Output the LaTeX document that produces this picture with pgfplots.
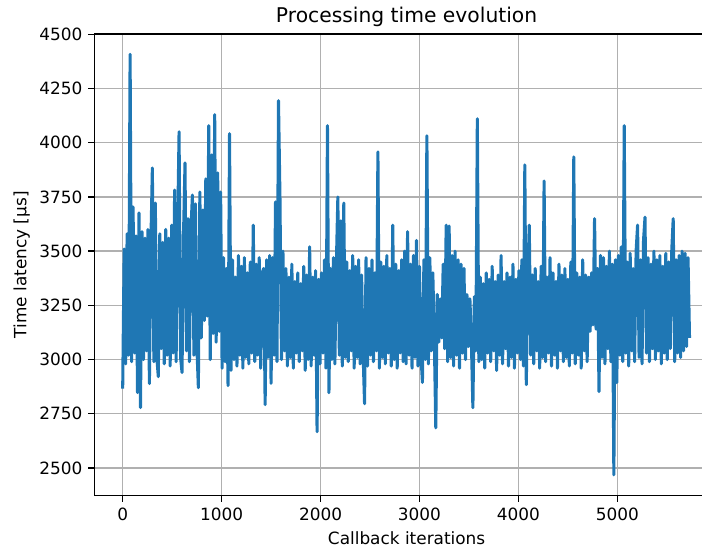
\documentclass[border=0pt]{standalone}
\usepackage{fontspec}
\setmainfont{DejaVu Sans}
\usepackage{pgfplots}
\pgfplotsset{compat=1.18}

\definecolor{mplblue}{HTML}{1F77B4}
\definecolor{mplgrid}{HTML}{B0B0B0}

\begin{document}
\begin{tikzpicture}
% the reference is cut on its right side, just before the right spine
\useasboundingbox (-55.8pt,-32.1pt) rectangle (359.6pt,293.3pt);
\clip (-55.8pt,-32.1pt) rectangle (359.6pt,293.3pt);
\begin{axis}[
    scale only axis,
    width=369.6pt,
    height=273.2pt,
    xmin=-287, xmax=6027,
    ymin=2372, ymax=4502,
    xtick={0,1000,2000,3000,4000,5000},
    ytick={2500,2750,3000,3250,3500,3750,4000,4250,4500},
    scaled ticks=false,
    xticklabel style={/pgf/number format/1000 sep={}, /pgf/number format/assume math mode=true},
    yticklabel style={/pgf/number format/1000 sep={}, /pgf/number format/assume math mode=true},
    tick align=outside,
    tick pos=left,
    major tick length=3.5pt,
    every tick/.style={black, line width=0.8pt},
    axis line style={black, line width=0.8pt},
    grid=major,
    grid style={mplgrid, line width=0.8pt},
    tick label style={font=\fontsize{10}{12}\selectfont},
    every axis title/.style={at={([yshift=6.5pt]axis description cs:0.5,1)}, anchor=base, font=\fontsize{12}{14}\selectfont},
    every axis x label/.style={at={([yshift=-25pt]axis description cs:0.5,0)}, anchor=center, font=\fontsize{10}{12}\selectfont},
    every axis y label/.style={at={([xshift=-43pt]axis description cs:0,0.5)}, anchor=center, rotate=90, font=\fontsize{10}{12}\selectfont},
    title={Processing time evolution},
    xlabel={Callback iterations},
    ylabel={Time latency [µs]},
]
\addplot[mplblue, line width=1.8pt, line join=round] coordinates {
(0,2866) (15,3510) (30,2980) (45,3580) (60,3020) (75,4408) (90,2990) (105,3704) (120,3030) (135,3570)
(150,2847) (165,3676) (180,2778) (195,3590) (210,3000) (225,3560) (240,3040) (255,3600) (270,2889) (285,3540)
(300,3884) (315,2990) (330,3722) (345,3010) (360,2921) (375,3580) (390,3050) (405,3540) (420,2980) (435,3600)
(450,3020) (465,3560) (480,2970) (495,3620) (510,3030) (525,3782) (540,2990) (555,3590) (570,4051) (585,3010)
(600,2940) (615,3580) (630,3907) (645,3040) (660,3650) (675,2990) (690,3600) (705,3759) (720,3020) (735,3718)
(750,3060) (765,2870) (780,3773) (795,3100) (810,3690) (825,3180) (840,3833) (855,3200) (870,4079) (885,3000)
(900,3944) (915,3120) (930,4130) (945,3080) (960,3861) (975,3130) (990,3773) (1005,2960) (1020,3470) (1035,2990)
(1050,3420) (1065,2880) (1080,4042) (1095,2950) (1110,3460) (1125,3000) (1140,3380) (1155,2970) (1170,3480) (1185,3020)
(1200,3430) (1215,2960) (1230,3470) (1245,3010) (1260,3400) (1275,2980) (1290,3450) (1305,3030) (1320,3620) (1335,2990)
(1350,3440) (1365,3020) (1380,3470) (1395,2960) (1410,3400) (1425,3420) (1440,2792) (1455,3460) (1470,3010) (1485,3480)
(1500,2890) (1515,3470) (1530,3020) (1545,3727) (1560,2990) (1575,4194) (1590,3745) (1605,3000) (1620,3500) (1635,3040)
(1650,3420) (1665,2970) (1680,3380) (1695,3010) (1710,3440) (1725,2960) (1740,3360) (1755,3030) (1770,3400) (1785,2990)
(1800,3350) (1815,3040) (1830,3430) (1845,2950) (1860,3390) (1875,3000) (1890,3520) (1905,2970) (1920,3380) (1935,3020)
(1950,3410) (1965,2667) (1980,3370) (1995,2980) (2010,3400) (2025,3030) (2040,3460) (2055,2960) (2070,4079) (2085,2847)
(2100,3420) (2115,3000) (2130,3470) (2145,2980) (2160,3440) (2175,3750) (2190,3020) (2205,3640) (2220,2970) (2235,3722)
(2250,3010) (2265,3450) (2280,2990) (2295,3410) (2310,3040) (2325,3480) (2340,2960) (2355,3430) (2370,3010) (2385,3460)
(2400,2980) (2415,3390) (2430,3030) (2445,2796) (2460,3470) (2475,2970) (2490,3420) (2505,3020) (2520,3460) (2535,2990)
(2550,3400) (2565,3040) (2580,3958) (2595,2960) (2610,3450) (2625,3010) (2640,3430) (2655,2980) (2670,3480) (2685,3030)
(2700,3420) (2715,2970) (2730,3620) (2745,3000) (2760,3440) (2775,2960) (2790,3410) (2805,3030) (2820,3460) (2835,2990)
(2850,3500) (2865,2980) (2880,3590) (2895,3020) (2910,3440) (2925,2960) (2940,3480) (2955,3010) (2970,3550) (2985,2970)
(3000,3430) (3015,3020) (3030,2894) (3045,3460) (3060,3000) (3075,4032) (3090,2980) (3105,3470) (3120,3040) (3135,3400)
(3150,3100) (3165,2685) (3180,3300) (3195,3080) (3210,3280) (3225,3100) (3240,3440) (3255,3050) (3270,3620) (3285,2990)
(3300,3616) (3315,3010) (3330,3480) (3345,2970) (3360,3500) (3375,3020) (3390,3460) (3405,2960) (3420,3440) (3435,3030)
(3450,3420) (3465,3000) (3480,3300) (3495,3060) (3510,3280) (3525,3080) (3540,2778) (3555,3290) (3570,3040) (3585,4111)
(3600,2990) (3615,3380) (3630,3000) (3645,3350) (3660,2960) (3675,3400) (3690,3030) (3705,3370) (3720,2990) (3735,3430)
(3750,3040) (3765,3360) (3780,2950) (3795,3390) (3810,3020) (3825,3480) (3840,2980) (3855,3360) (3870,3050) (3885,3400)
(3900,2970) (3915,3380) (3930,3010) (3945,3440) (3960,2960) (3975,3370) (3990,3030) (4005,3410) (4020,3000) (4035,3460)
(4050,2970) (4065,3898) (4080,2884) (4095,3380) (4110,3620) (4125,3020) (4140,3390) (4155,2980) (4170,3420) (4185,3040)
(4200,3360) (4215,2960) (4230,3430) (4245,3010) (4260,3824) (4275,2990) (4290,3380) (4305,3030) (4320,3470) (4335,2970)
(4350,3400) (4365,3020) (4380,3360) (4395,2960) (4410,3440) (4425,3040) (4440,3390) (4455,2990) (4470,3420) (4485,3010)
(4500,3370) (4515,2970) (4530,3450) (4545,3030) (4560,3935) (4575,2980) (4590,3400) (4605,3020) (4620,3380) (4635,2960)
(4650,3460) (4665,3040) (4680,3390) (4695,2990) (4710,3380) (4725,3130) (4740,3400) (4755,3160) (4770,3650) (4785,3140)
(4800,3420) (4815,2852) (4830,3480) (4845,3010) (4860,3470) (4875,2980) (4890,3430) (4905,3050) (4920,3500) (4935,2990)
(4950,3440) (4965,2468) (4980,3460) (4995,2894) (5010,3480) (5025,3020) (5040,3520) (5055,2990) (5070,4079) (5085,3030)
(5100,3450) (5115,2970) (5130,3490) (5145,3040) (5160,3420) (5175,2990) (5190,3500) (5205,3620) (5220,3010) (5235,3460)
(5250,2980) (5265,3550) (5280,3657) (5295,3030) (5310,3470) (5325,2990) (5340,3440) (5355,3050) (5370,3500) (5385,3000)
(5400,3460) (5415,3040) (5430,3480) (5445,2980) (5460,3430) (5475,3030) (5490,3490) (5505,3000) (5520,3450) (5535,3050)
(5550,3500) (5565,3650) (5580,2990) (5595,3460) (5610,3030) (5625,3480) (5640,3010) (5655,3500) (5670,3040) (5685,3490)
(5700,3060) (5715,3470) (5730,3100)
};
\end{axis}
\end{tikzpicture}
\end{document}
